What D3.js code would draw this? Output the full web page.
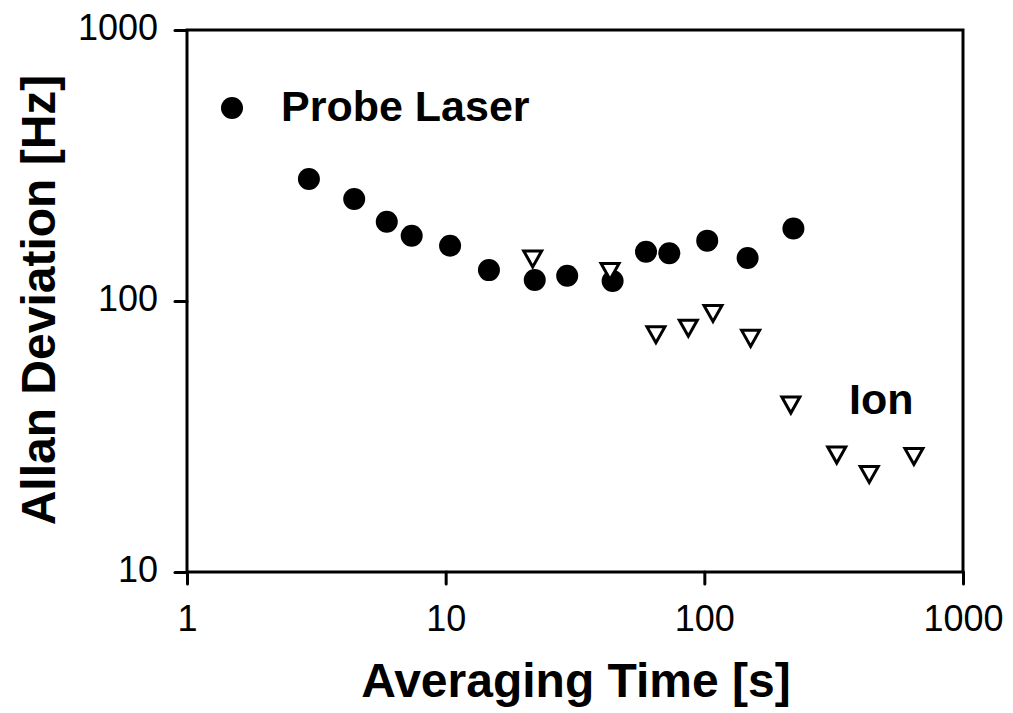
<!DOCTYPE html>
<html>
<head>
<meta charset="utf-8">
<script src="https://cdn.jsdelivr.net/npm/d3@7"></script>
<style>
	body { margin: 0; background: #fff; }
	svg { font-family: "Liberation Sans", Arial, sans-serif; }
</style>
</head>
<body>
<svg id="chart" width="1013" height="713"></svg>
<script>
// Probe laser (filled circles)
let laserTime = [2.96, 4.43, 5.92, 7.39, 10.4, 14.7, 22.1, 29.5, 44.2, 59.5, 73.2, 102.6, 147, 221];
let laserDev = [282, 238, 196, 174, 160, 130, 119.5, 124, 118.5, 152, 150, 167, 144, 185];

// Ion (open down triangles)
let ionTime = [21.7, 43.2, 65, 86.7, 108, 151, 216, 325, 434, 646];
let ionDev = [143, 128.5, 75.1, 79.3, 89.9, 72.8, 41.3, 27, 22.9, 26.7];

let xTicks = [1, 10, 100, 1000];
let yTicks = [10, 100, 1000];

let svg = d3.select("#chart");

// plot frame edges
let plotLeft = 187, plotRight = 963, plotTop = 30, plotBottom = 572;

let x = d3.scaleLog().domain([1, 1000]).range([plotLeft, plotRight]);
let y = d3.scaleLog().domain([10, 1000]).range([plotBottom, plotTop]);

// frame
svg.append("rect")
	.attr("x", plotLeft).attr("y", plotTop)
	.attr("width", plotRight - plotLeft).attr("height", plotBottom - plotTop)
	.attr("fill", "none").attr("stroke", "#000").attr("stroke-width", 3);

// axes
let xAxis = svg.append("g")
	.attr("transform", "translate(0," + plotBottom + ")")
	.call(d3.axisBottom(x).tickValues(xTicks).tickFormat(d3.format("d"))
		.tickSize(12).tickSizeOuter(0).tickPadding(21));
let yAxis = svg.append("g")
	.attr("transform", "translate(" + plotLeft + ",0)")
	.call(d3.axisLeft(y).tickValues(yTicks).tickFormat(d3.format("d"))
		.tickSize(12).tickSizeOuter(0).tickPadding(17));

for (let ax of [xAxis, yAxis]) {
	ax.select(".domain").remove();
	ax.selectAll("line").attr("stroke", "#000").attr("stroke-width", 3).attr("stroke-linecap", "round");
	ax.selectAll("text").attr("font-size", 36).attr("fill", "#000")
		.attr("font-family", "'Liberation Sans', Arial, sans-serif");
}
yAxis.selectAll("text").attr("dy", "0.27em");

// axis titles
svg.append("text")
	.attr("x", 576).attr("y", 697)
	.attr("text-anchor", "middle")
	.attr("font-size", 48).attr("font-weight", "bold")
	.text("Averaging Time [s]");
svg.append("text")
	.attr("transform", "translate(55,300) rotate(-90)")
	.attr("text-anchor", "middle")
	.attr("font-size", 48).attr("font-weight", "bold")
	.text("Allan Deviation [Hz]");

// probe laser points
let laser = laserTime.map((t, i) => ({t: t, v: laserDev[i]}));
svg.append("g").selectAll("circle")
	.data(laser)
	.join("circle")
	.attr("cx", d => x(d.t))
	.attr("cy", d => y(d.v))
	.attr("r", 11)
	.attr("fill", "#000");

// ion points, down triangles
let tri = "M-9,-8L9,-8L0,8Z";
let ion = ionTime.map((t, i) => ({t: t, v: ionDev[i]}));
svg.append("g").selectAll("path")
	.data(ion)
	.join("path")
	.attr("transform", d => "translate(" + x(d.t) + "," + y(d.v) + ")")
	.attr("d", tri)
	.attr("fill", "#fff")
	.attr("stroke", "#000")
	.attr("stroke-width", 3)
	.attr("stroke-linejoin", "miter");

// labels
svg.append("circle").attr("cx", 232).attr("cy", 108).attr("r", 11).attr("fill", "#000");
svg.append("text")
	.attr("x", 281).attr("y", 121)
	.attr("font-size", 43).attr("font-weight", "bold")
	.text("Probe Laser");
svg.append("text")
	.attr("x", 849).attr("y", 414)
	.attr("font-size", 43).attr("font-weight", "bold")
	.text("Ion");
</script>
</body>
</html>
